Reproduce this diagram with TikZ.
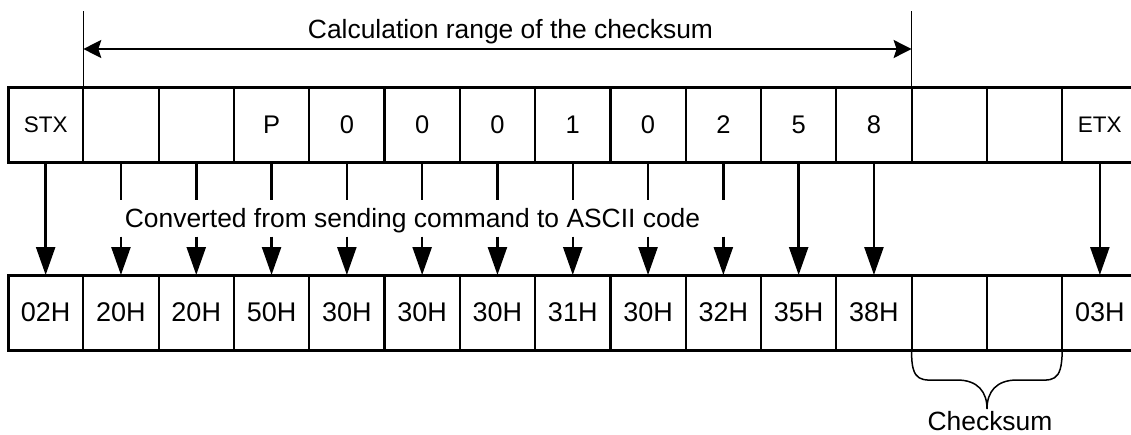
\documentclass[tikz,border=0pt]{standalone}
\usepackage{fontspec}
\setmainfont{Liberation Sans}
\usetikzlibrary{arrows.meta}
\newcommand{\ctltext}[1]{{\fontsize{22.5}{22.5}\selectfont #1}}
\begin{document}
\begin{tikzpicture}[x=1pt,y=-1pt,
  cell/.style={draw,line width=2.2pt,minimum width=75.3pt,minimum height=75pt,inner sep=0pt,outer sep=0pt},
  frame/.style={line width=3pt},
  conn/.style={line width=2.5pt},
  connarrow/.style={line width=2.5pt,-{Triangle[width=19pt,length=28pt]}},
  rangeline/.style={line width=1.3pt},
  rangearrow/.style={line width=2pt,{Stealth[length=18pt,width=18pt,inset=3pt]}-{Stealth[length=18pt,width=18pt,inset=3pt]}},
  lbl/.style={font=\fontsize{26.4}{26.4}\selectfont},
  bracestyle/.style={line width=1.5pt}]
\useasboundingbox (0,0) rectangle (1131,434);
\clip (0,0) rectangle (1131,434);
% top row
\foreach \t [count=\i] in {\ctltext{STX},{},{},P,0,0,0,1,0,2,5,8,{},{},\ctltext{ETX}}
  \node[cell,font=\fontsize{25.5}{25.5}\selectfont] (t\i) at ({8+75.3*(\i-0.5)},124.5) {\t};
% bottom row
\foreach \t [count=\i] in {02H,20H,20H,50H,30H,30H,30H,31H,30H,32H,35H,38H,{},{},03H}
  \node[cell,font=\fontsize{27}{27}\selectfont] (b\i) at ({8+75.3*(\i-0.5)},312.5) {\t};
\draw[frame] (t1.north west) rectangle (t15.south east);
\draw[frame] (b1.north west) rectangle (b15.south east);
% labels
\node[lbl,anchor=base] (rng) at (510.5,38) {Calculation range of the checksum};
\node[lbl,text height=18.9pt,text depth=0pt,minimum height=37pt,inner sep=0pt,outer sep=0pt] (conv) at (412.5,218) {Converted from sending command to ASCII code};
\node[lbl,anchor=base] (cks) at (990,430.5) {Checksum};
% range markers
\draw[rangeline] (t1.north east) -- ++(0,-76) coordinate[pos=0.5] (rl);
\draw[rangeline] (t12.north east) -- ++(0,-76) coordinate[pos=0.5] (rr);
\draw[rangearrow] (rl) -- (rr);
% solid connectors
\foreach \i in {1,11,12,15}
  \draw[connarrow] (t\i.south) -- (b\i.north);
% broken connectors
\foreach \i in {2,...,10}{
  \draw[conn] (t\i.south) -- (t\i.south |- conv.north);
  \draw[connarrow] (t\i.south |- conv.south) -- (b\i.north);
}
% brace
\draw[bracestyle] (b13.south west) .. controls (911,384) and (922,380) .. (942,380)
  -- (957,380) .. controls (978,380) and (987,392) .. (987,409)
  .. controls (987,392) and (996,380) .. (1017,380)
  -- (1032,380) .. controls (1052,380) and (1062,384) .. (b14.south east);
\end{tikzpicture}
\end{document}
